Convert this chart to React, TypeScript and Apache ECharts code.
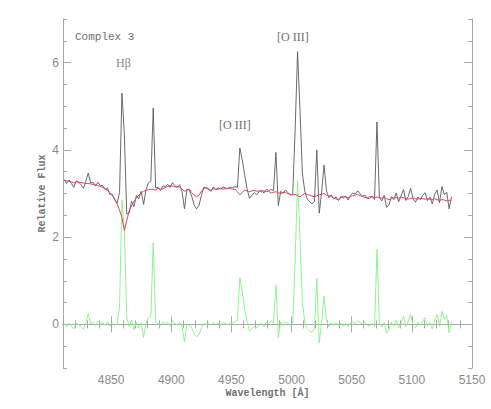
import React, { useEffect, useRef } from "react";
import * as echarts from "echarts";

// Wavelength grid (Å)
const WAVE = [
  4811, 4813, 4815, 4817, 4819, 4821, 4823, 4825, 4827, 4829,
  4831, 4833, 4835, 4837, 4839, 4841, 4843, 4845, 4847, 4849,
  4851, 4853, 4855, 4857, 4859, 4861, 4863, 4865, 4867, 4869,
  4871, 4873, 4875, 4877, 4879, 4881, 4883, 4885, 4887, 4889,
  4891, 4893, 4895, 4897, 4899, 4901, 4903, 4905, 4907, 4909,
  4911, 4913, 4915, 4917, 4919, 4921, 4923, 4925, 4927, 4929,
  4931, 4933, 4935, 4937, 4939, 4941, 4943, 4945, 4947, 4949,
  4951, 4953, 4955, 4957, 4959, 4961, 4963, 4965, 4967, 4969,
  4971, 4973, 4975, 4977, 4979, 4981, 4983, 4985, 4987, 4989,
  4991, 4993, 4995, 4997, 4999, 5001, 5003, 5005, 5007, 5009,
  5011, 5013, 5015, 5017, 5019, 5021, 5023, 5025, 5027, 5029,
  5031, 5033, 5035, 5037, 5039, 5041, 5043, 5045, 5047, 5049,
  5051, 5053, 5055, 5057, 5059, 5061, 5063, 5065, 5067, 5069,
  5071, 5073, 5075, 5077, 5079, 5081, 5083, 5085, 5087, 5089,
  5091, 5093, 5095, 5097, 5099, 5101, 5103, 5105, 5107, 5109,
  5111, 5113, 5115, 5117, 5119, 5121, 5123, 5125, 5127, 5129,
  5131, 5133,
];

// Observed spectrum (gray)
const OBSERVED = [
  3.32, 3.23, 3.31, 3.23, 3.14, 3.29, 3.26, 3.2, 3.12, 3.28,
  3.47, 3.24, 3.26, 3.17, 3.26, 3.18, 3.18, 3.09, 3.13, 2.98,
  2.98, 2.85, 2.78, 3.02, 5.3, 4.35, 2.53, 2.55, 2.82, 2.7,
  2.95, 2.88, 3.05, 2.75, 3.09, 3.24, 3.28, 4.96, 3.13, 3.14,
  3.07, 3.17, 3.16, 3.21, 3.14, 3.25, 3.18, 3.14, 3.2, 3.04,
  2.65, 3.1, 3.07, 2.94, 2.74, 2.65, 2.72, 2.95, 3.14, 3.13,
  3.12, 3.05, 3.15, 3.09, 3.13, 3.1, 3.15, 3.13, 3.11, 3.15,
  3.13, 3.16, 3.14, 4.04, 3.77, 3.43, 3.11, 2.89, 2.96, 3.02,
  2.97, 3.04, 3.08, 3.01, 3.09, 3.07, 3.09, 3.07, 3.94, 2.72,
  3.05, 3.0, 3.08, 3.02, 2.96, 3.0, 4.48, 6.25, 4.92, 3.47,
  3.05, 2.88, 2.81, 2.76, 2.82, 4.0, 2.55, 3.03, 3.65, 3.06,
  2.9, 2.97, 2.87, 2.92, 2.84, 2.93, 2.9, 2.94, 2.85, 2.96,
  3.01, 2.99, 3.06, 2.99, 2.94, 2.96, 2.88, 2.89, 2.94, 2.86,
  4.64, 2.92, 2.83, 2.96, 2.68, 2.74, 2.93, 2.86, 3.01, 2.81,
  2.94, 3.09, 2.84, 2.93, 3.12, 2.88, 2.8, 2.92, 2.86, 2.96,
  3.02, 2.84, 2.92, 2.76, 2.98, 3.08, 2.79, 3.16, 2.97, 3.03,
  2.65, 2.93,
];

// Model fit (red)
const MODEL = [
  3.3, 3.29, 3.28, 3.27, 3.24, 3.27, 3.26, 3.25, 3.24, 3.23,
  3.23, 3.22, 3.21, 3.2, 3.18, 3.16, 3.14, 3.11, 3.07, 3.02,
  2.95, 2.87, 2.76, 2.62, 2.45, 2.15, 2.38, 2.6, 2.72, 2.82,
  2.9, 2.96, 3.01, 3.05, 3.07, 3.09, 3.1, 3.09, 3.08, 3.12,
  3.1, 3.11, 3.14, 3.16, 3.18, 3.17, 3.15, 3.16, 3.15, 3.1,
  3.05, 3.08, 3.1, 3.02, 2.96, 2.93, 2.96, 3.05, 3.12, 3.13,
  3.09, 3.07, 3.11, 3.09, 3.1, 3.12, 3.1, 3.11, 3.12, 3.11,
  3.1, 3.1, 3.04, 2.97, 3.02, 3.08, 3.06, 3.04, 3.06, 3.07,
  3.05, 3.06, 3.05, 3.06, 3.04, 3.05, 3.01, 3.03, 3.04, 3.02,
  3.0, 3.03, 3.02, 3.0, 2.98, 2.97, 2.98, 2.95, 2.92, 2.97,
  3.0, 2.98, 2.96, 2.94, 2.92, 2.95, 2.97, 2.98, 3.0, 2.96,
  2.95, 2.93, 2.9, 2.87, 2.86, 2.9, 2.94, 2.92, 2.9, 2.93,
  2.95, 2.97, 2.98, 2.95, 2.93, 2.91, 2.9, 2.93, 2.92, 2.91,
  2.92, 2.9, 2.89, 2.91, 2.88, 2.86, 2.88, 2.9, 2.91, 2.89,
  2.92, 2.9, 2.89, 2.87, 2.89, 2.9, 2.88, 2.87, 2.89, 2.88,
  2.87, 2.88, 2.87, 2.86, 2.88, 2.86, 2.84, 2.86, 2.85, 2.83,
  2.84, 2.85,
];

// Residual (green)
const RESIDUAL = [
  0.02, -0.06, 0.03, -0.04, -0.1, 0.02, 0.0, -0.05, -0.12, 0.05,
  0.24, 0.02, 0.05, -0.03, 0.08, 0.02, 0.04, -0.02, 0.06, -0.04,
  0.03, -0.02, 0.02, 0.4, 2.85, 2.2, 0.15, -0.05, 0.1, -0.12,
  0.05, -0.08, 0.04, -0.3, 0.02, 0.15, 0.18, 1.87, 0.05, 0.02,
  -0.03, 0.06, 0.02, 0.05, -0.04, 0.08, 0.03, -0.02, 0.05, -0.06,
  -0.4, 0.02, -0.03, -0.08, -0.22, -0.28, -0.24, -0.1, 0.02, 0.0,
  0.03, -0.02, 0.04, 0.0, 0.03, -0.02, 0.05, 0.02, -0.01, 0.04,
  0.03, 0.06, 0.1, 1.07, 0.75, 0.35, 0.05, -0.15, -0.1, -0.05,
  -0.08, -0.02, 0.03, -0.05, 0.05, 0.02, 0.08, 0.04, 0.9, -0.3,
  0.05, -0.03, 0.06, 0.02, -0.02, 0.03, 1.5, 3.3, 2.0, 0.5,
  0.05, -0.1, -0.15, -0.18, -0.1, 1.05, -0.42, 0.05, 0.65, 0.1,
  -0.05, 0.04, -0.03, 0.05, -0.02, 0.03, -0.04, 0.02, -0.05, 0.03,
  0.06, 0.02, 0.08, 0.04, 0.01, 0.05, -0.02, -0.04, 0.02, -0.05,
  1.72, 0.02, -0.06, 0.05, -0.2, -0.12, 0.05, -0.04, 0.1, -0.08,
  0.02, 0.19, -0.05, 0.06, 0.23, -0.02, -0.08, 0.05, -0.03, 0.08,
  0.15, -0.04, 0.05, -0.1, 0.1, 0.22, -0.05, 0.3, 0.12, 0.2,
  -0.19, 0.08,
];

const X_MAJOR_TICKS = [4850, 4900, 4950, 5000, 5050, 5100, 5150];
const Y_MAJOR_TICKS = [0, 2, 4, 6];

const AXIS_COLOR = "#a8a8a8";
const LABEL_COLOR = "#8a8a8a";
const MONO = "'Liberation Mono', 'DejaVu Sans Mono', monospace";
const SANS = "'Liberation Sans', Arial, sans-serif";
const SERIF = "'Liberation Serif', 'DejaVu Serif', serif";

function pairs(vals: number[]) {
  return WAVE.map((w, i) => [w, vals[i]]);
}

export default function App() {
  const ref = useRef<HTMLDivElement>(null);
  useEffect(() => {
    if (!ref.current) return;
    const chart = echarts.init(ref.current, null, { renderer: "svg" });
    const axisLine = { show: true, lineStyle: { color: AXIS_COLOR, width: 1 } };
    const xBase = {
      type: "value",
      min: 4810,
      max: 5150,
      splitLine: { show: false },
      axisLine,
    };
    const yBase = {
      type: "value",
      min: -1,
      max: 7,
      splitLine: { show: false },
      axisLine,
    };
    const minorTick = { show: true, inside: true, length: 4, lineStyle: { color: AXIS_COLOR } };
    const majorTick = (vals: number[]) => ({
      show: true,
      inside: true,
      length: 8,
      customValues: vals,
      lineStyle: { color: AXIS_COLOR },
    });
    const plain = (v: number) => String(v);
    chart.setOption({
      animation: false,
      backgroundColor: "#ffffff",
      grid: { left: 63, right: 19, top: 19, bottom: 41, containLabel: false },
      xAxis: [
        { ...xBase, position: "bottom", interval: 10, axisTick: minorTick, axisLabel: { show: false } },
        {
          ...xBase,
          position: "bottom",
          axisTick: majorTick(X_MAJOR_TICKS),
          axisLabel: {
            show: true,
            customValues: X_MAJOR_TICKS,
            formatter: plain,
            color: LABEL_COLOR,
            fontSize: 12,
            fontFamily: SANS,
            margin: 6,
            showMinLabel: true,
            showMaxLabel: true,
          },
          name: "Wavelength [Å]",
          nameLocation: "middle",
          nameGap: 20,
          nameMoveOverlap: false,
          nameTextStyle: { color: "#707070", fontSize: 10, fontFamily: MONO, fontWeight: "bold" },
        },
        { ...xBase, position: "top", interval: 10, axisTick: minorTick, axisLabel: { show: false } },
        { ...xBase, position: "top", axisTick: majorTick(X_MAJOR_TICKS), axisLabel: { show: false } },
      ],
      yAxis: [
        { ...yBase, position: "left", interval: 0.5, axisTick: minorTick, axisLabel: { show: false } },
        {
          ...yBase,
          position: "left",
          axisTick: majorTick(Y_MAJOR_TICKS),
          axisLabel: {
            show: true,
            customValues: Y_MAJOR_TICKS,
            formatter: plain,
            color: LABEL_COLOR,
            fontSize: 12,
            fontFamily: SANS,
            margin: 4,
          },
          name: "Relative Flux",
          nameLocation: "middle",
          nameGap: 16,
          nameRotate: 90,
          nameMoveOverlap: false,
          nameTextStyle: { color: "#707070", fontSize: 10, fontFamily: MONO, fontWeight: "bold" },
        },
        { ...yBase, position: "right", interval: 0.5, axisTick: minorTick, axisLabel: { show: false } },
        { ...yBase, position: "right", axisTick: majorTick(Y_MAJOR_TICKS), axisLabel: { show: false } },
      ],
      series: [
        {
          name: "Observed",
          type: "line",
          xAxisIndex: 0,
          yAxisIndex: 0,
          data: pairs(OBSERVED),
          showSymbol: false,
          lineStyle: { color: "#5a5a5a", width: 0.9 },
          z: 2,
        },
        {
          name: "Residual",
          type: "line",
          xAxisIndex: 0,
          yAxisIndex: 0,
          data: pairs(RESIDUAL),
          showSymbol: false,
          lineStyle: { color: "#86f086", width: 0.9 },
          z: 3,
        },
        {
          name: "Model",
          type: "line",
          xAxisIndex: 0,
          yAxisIndex: 0,
          data: pairs(MODEL),
          showSymbol: false,
          lineStyle: { color: "#e8415f", width: 1 },
          z: 4,
        },
      ],
      graphic: [
        {
          type: "text",
          left: 75,
          top: 31,
          style: { text: "Complex 3", fill: "#707070", font: `11px ${MONO}` },
        },
        {
          type: "text",
          left: 116,
          top: 57,
          style: { text: "Hβ", fill: "#8a8a8a", font: `12px ${SERIF}` },
        },
        {
          type: "text",
          left: 219,
          top: 119,
          style: { text: "[O III]", fill: "#707070", font: `12px ${SERIF}` },
        },
        {
          type: "text",
          left: 277,
          top: 31,
          style: { text: "[O III]", fill: "#707070", font: `12px ${SERIF}` },
        },
      ],
    });
    return () => chart.dispose();
  }, []);
  return (
    <div
      ref={ref}
      style={{ position: "fixed", left: 0, top: 0, width: 491, height: 409, background: "#fff" }}
    />
  );
}
